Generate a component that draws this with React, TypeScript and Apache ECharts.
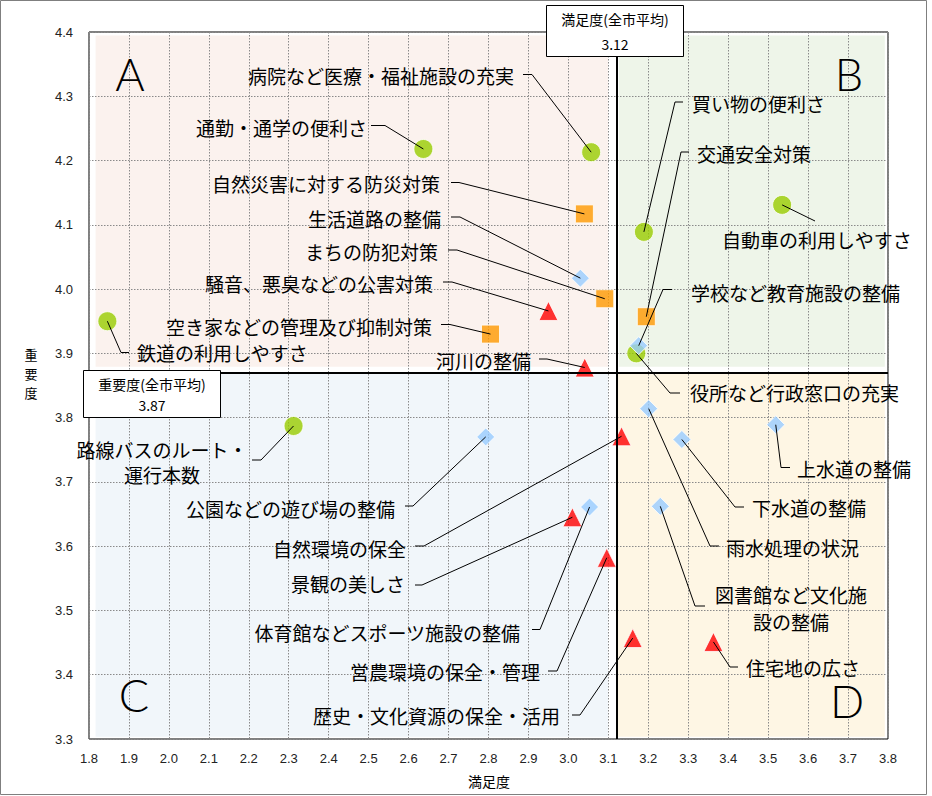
import React, { useEffect, useRef } from 'react';
import * as echarts from 'echarts';

// ---- data (satisfaction = x, importance = y) ----
const circleNames = ['病院など医療・福祉施設の充実', '通勤・通学の便利さ', '自動車の利用しやすさ', '買い物の便利さ', '鉄道の利用しやすさ', '路線バスのルート・運行本数', '役所など行政窓口の充実'];
const circleX = [3.057, 2.637, 3.535, 3.189, 1.846, 2.312, 3.170];
const circleY = [4.213, 4.218, 4.131, 4.089, 3.950, 3.787, 3.900];

const squareNames = ['自然災害に対する防災対策', 'まちの防犯対策', '空き家などの管理及び抑制対策', '交通安全対策'];
const squareX = [3.040, 3.091, 2.805, 3.195];
const squareY = [4.117, 3.985, 3.930, 3.957];

const diamondNames = ['生活道路の整備', '学校など教育施設の整備', '公園などの遊び場の整備', '体育館などスポーツ施設の整備', '雨水処理の状況', '下水道の整備', '上水道の整備', '図書館など文化施設の整備'];
const diamondX = [3.030, 3.176, 2.793, 3.053, 3.201, 3.284, 3.519, 3.230];
const diamondY = [4.017, 3.912, 3.770, 3.661, 3.814, 3.766, 3.789, 3.662];

const triangleNames = ['騒音、悪臭などの公害対策', '河川の整備', '自然環境の保全', '景観の美しさ', '営農環境の保全・管理', '歴史・文化資源の保全・活用', '住宅地の広さ'];
const triangleX = [2.950, 3.041, 3.133, 3.010, 3.096, 3.161, 3.363];
const triangleY = [3.966, 3.878, 3.771, 3.645, 3.582, 3.457, 3.451];

const meanX = 3.12;
const meanY = 3.87;
const xMin = 1.8, xMax = 3.8, yMin = 3.3, yMax = 4.4, step = 0.1;

// ---- annotation layout (pixels) ----
type Lay = { lines: string[]; x: number; y: number; align: 'left' | 'right' | 'center'; lead: number[][]; lh?: number };
const layout: Record<string, Lay> = {
  '病院など医療・福祉施設の充実': { lines: ['病院など医療・福祉施設の充実'], x: 514, y: 75, align: 'right', lead: [[523, 74.5], [532, 74.5]] },
  '通勤・通学の便利さ': { lines: ['通勤・通学の便利さ'], x: 367, y: 127, align: 'right', lead: [[371, 125.5], [385, 125.5]] },
  '自然災害に対する防災対策': { lines: ['自然災害に対する防災対策'], x: 440, y: 183, align: 'right', lead: [[451, 182.5], [459, 182.5]] },
  '生活道路の整備': { lines: ['生活道路の整備'], x: 441, y: 218, align: 'right', lead: [[451, 217], [460, 217]] },
  'まちの防犯対策': { lines: ['まちの防犯対策'], x: 438, y: 251, align: 'right', lead: [[448, 250], [457, 250]] },
  '騒音、悪臭などの公害対策': { lines: ['騒音、悪臭などの公害対策'], x: 433, y: 283, align: 'right', lead: [[443, 282], [452, 282]] },
  '空き家などの管理及び抑制対策': { lines: ['空き家などの管理及び抑制対策'], x: 432, y: 326, align: 'right', lead: [[441, 324.5], [450, 324.5]] },
  '鉄道の利用しやすさ': { lines: ['鉄道の利用しやすさ'], x: 137, y: 352, align: 'left', lead: [[129, 352.5], [121, 352.5]] },
  '河川の整備': { lines: ['河川の整備'], x: 531, y: 360, align: 'right', lead: [[539, 359], [547, 359]] },
  '買い物の便利さ': { lines: ['買い物の便利さ'], x: 692, y: 103, align: 'left', lead: [[683, 102], [675, 102]] },
  '交通安全対策': { lines: ['交通安全対策'], x: 697, y: 153, align: 'left', lead: [[689, 152], [681, 152]] },
  '自動車の利用しやすさ': { lines: ['自動車の利用しやすさ'], x: 722, y: 239, align: 'left', lead: [[815, 221]] },
  '学校など教育施設の整備': { lines: ['学校など教育施設の整備'], x: 691, y: 292, align: 'left', lead: [[672, 289.5], [663, 289.5]] },
  '役所など行政窓口の充実': { lines: ['役所など行政窓口の充実'], x: 690, y: 392, align: 'left', lead: [[680, 393], [670, 393]] },
  '路線バスのルート・運行本数': { lines: ['路線バスのルート・', '運行本数'], x: 162, y: 449, align: 'center', lead: [[252, 460], [261, 460]], lh: 25 },
  '公園などの遊び場の整備': { lines: ['公園などの遊び場の整備'], x: 395, y: 508, align: 'right', lead: [[405, 506], [413, 506]] },
  '自然環境の保全': { lines: ['自然環境の保全'], x: 406, y: 548, align: 'right', lead: [[415, 546], [424, 546]] },
  '景観の美しさ': { lines: ['景観の美しさ'], x: 405, y: 583, align: 'right', lead: [[415, 585], [422, 585]] },
  '体育館などスポーツ施設の整備': { lines: ['体育館などスポーツ施設の整備'], x: 520, y: 632, align: 'right', lead: [[532, 629.5], [540, 629.5]] },
  '営農環境の保全・管理': { lines: ['営農環境の保全・管理'], x: 540, y: 671, align: 'right', lead: [[548, 671], [557, 671]] },
  '歴史・文化資源の保全・活用': { lines: ['歴史・文化資源の保全・活用'], x: 560, y: 715, align: 'right', lead: [[572, 715], [580, 715]] },
  '上水道の整備': { lines: ['上水道の整備'], x: 797, y: 468, align: 'left', lead: [[790, 467.5], [781, 467.5]] },
  '下水道の整備': { lines: ['下水道の整備'], x: 752, y: 507, align: 'left', lead: [[744, 507], [735, 507]] },
  '雨水処理の状況': { lines: ['雨水処理の状況'], x: 726, y: 547, align: 'left', lead: [[719, 546], [710, 546]] },
  '図書館など文化施設の整備': { lines: ['図書館など文化施', '設の整備'], x: 791, y: 594, align: 'center', lead: [[705, 606], [695, 606]], lh: 27 },
  '住宅地の広さ': { lines: ['住宅地の広さ'], x: 746, y: 667, align: 'left', lead: [[738, 667], [730, 667]] },
};

const JP = '"Noto Sans CJK JP", "Noto Sans", sans-serif';
const LATIN = 'Lato, "Noto Sans", sans-serif';

function zip(xs: number[], ys: number[], names: string[]) {
  return xs.map((x, i) => ({ name: names[i], value: [x, ys[i]] }));
}

function txt(text: string, x: number, y: number, size: number, align: string, family = JP, extra: any = {}) {
  return {
    type: 'text', z: 120, silent: true,
    style: {
      text, x, y, fill: '#000', fontSize: size, fontFamily: family,
      align, textAlign: align, verticalAlign: 'middle', textVerticalAlign: 'middle', ...extra,
    },
  };
}

export default function App() {
  const ref = useRef<HTMLDivElement>(null);
  useEffect(() => {
    const chart = echarts.init(ref.current!, null, { renderer: 'svg' });
    const gridLine = { show: true, lineStyle: { color: '#8a8a8a', type: [1.5, 1.5], width: 1 } };
    const marker = { borderColor: '#ffffff', borderWidth: 1 };
    const option: any = {
      animation: false,
      backgroundColor: '#ffffff',
      grid: { left: 89, right: 44, top: 32, bottom: 57, show: true, borderColor: '#000', borderWidth: 1, backgroundColor: 'transparent' },
      xAxis: {
        type: 'value', min: xMin, max: xMax, interval: step, z: 2,
        axisLine: { show: false }, axisTick: { show: false },
        splitLine: gridLine,
        axisLabel: { margin: 13, fontSize: 13, color: '#222', fontFamily: '"Liberation Sans", Arial, sans-serif', formatter: (v: number) => v.toFixed(1) },
      },
      yAxis: {
        type: 'value', min: yMin, max: yMax, interval: step, z: 2,
        axisLine: { show: false }, axisTick: { show: false },
        splitLine: gridLine,
        axisLabel: { margin: 16, fontSize: 13, color: '#222', fontFamily: '"Liberation Sans", Arial, sans-serif', formatter: (v: number) => v.toFixed(1) },
      },
      series: [
        {
          type: 'scatter', z: 1, symbolSize: 0, data: [[meanX, meanY]], silent: true,
          markArea: {
            silent: true,
            label: { show: false },
            data: [
              [{ xAxis: 1.8165, yAxis: 4.3947, itemStyle: { color: '#FBF2EE' } }, { xAxis: 3.099, yAxis: 3.879 }],
              [{ xAxis: 3.1263, yAxis: 4.3947, itemStyle: { color: '#EEF5E9' } }, { xAxis: 3.792, yAxis: 3.879 }],
              [{ xAxis: 1.8165, yAxis: 3.869, itemStyle: { color: '#F1F6FA' } }, { xAxis: 3.099, yAxis: 3.3036 }],
              [{ xAxis: 3.1206, yAxis: 3.869, itemStyle: { color: '#FEF6E4' } }, { xAxis: 3.792, yAxis: 3.3036 }],
            ],
          },
        },
        {
          type: 'scatter', z: 3, symbolSize: 0, data: [[meanX, meanY]], silent: true,
          markLine: {
            silent: true, symbol: ['none', 'none'], label: { show: false },
            lineStyle: { color: '#000', width: 2, type: 'solid' },
            data: [{ xAxis: meanX }, { yAxis: meanY }],
          },
        },
        { type: 'scatter', z: 4, symbol: 'circle', symbolSize: 19, itemStyle: { color: '#99CC00', ...marker }, data: zip(circleX, circleY, circleNames) },
        { type: 'scatter', z: 4, symbol: 'rect', symbolSize: 18, itemStyle: { color: '#FF9900', ...marker }, data: zip(squareX, squareY, squareNames) },
        { type: 'scatter', z: 4, symbol: 'diamond', symbolSize: 18, itemStyle: { color: '#99CCFF', ...marker }, data: zip(diamondX, diamondY, diamondNames) },
        { type: 'scatter', z: 4, symbol: 'triangle', symbolSize: 19, itemStyle: { color: '#FF0000', ...marker }, data: zip(triangleX, triangleY, triangleNames) },
      ],
    };
    chart.setOption(option);

    const g: any[] = [];
    // outer chart frame
    g.push({ type: 'rect', z: 100, silent: true, shape: { x: 0.5, y: 0.5, width: 926, height: 794 }, style: { fill: 'none', stroke: '#7f7f7f', lineWidth: 1 } });
    // quadrant letters
    const letterFont = { fontWeight: 300, lineHeight: 32 };
    g.push(txt('A', 130, 74, 45, 'center', LATIN, letterFont));
    g.push(txt('B', 849, 74, 45, 'center', LATIN, letterFont));
    g.push(txt('C', 134, 695, 45, 'center', LATIN, letterFont));
    g.push(txt('D', 847, 701, 45, 'center', LATIN, letterFont));
    // mean boxes
    g.push({ type: 'rect', z: 110, silent: true, shape: { x: 546.5, y: 5.5, width: 137, height: 51 }, style: { fill: '#fff', stroke: '#000', lineWidth: 1 } });
    g.push(txt('満足度(全市平均)', 615, 19, 14, 'center'));
    g.push(txt(String(meanX.toFixed(2)), 615, 44, 14, 'center'));
    g.push({ type: 'rect', z: 110, silent: true, shape: { x: 83.5, y: 370.5, width: 137, height: 47 }, style: { fill: '#fff', stroke: '#000', lineWidth: 1 } });
    g.push(txt('重要度(全市平均)', 152, 384, 14, 'center'));
    g.push(txt(String(meanY.toFixed(2)), 152, 405, 14, 'center'));
    // axis titles
    g.push(txt('満足度', 489, 781, 14, 'center'));
    ['重', '要', '度'].forEach((c, i) => g.push(txt(c, 31, 354 + i * 19, 13, 'center')));

    // labels and leader lines
    const all = [
      ...zip(circleX, circleY, circleNames),
      ...zip(squareX, squareY, squareNames),
      ...zip(diamondX, diamondY, diamondNames),
      ...zip(triangleX, triangleY, triangleNames),
    ];
    all.forEach((d) => {
      const lay = layout[d.name];
      if (!lay) return;
      const p = chart.convertToPixel({ gridIndex: 0 }, d.value) as number[];
      const pts = [...lay.lead, p];
      g.push({ type: 'polyline', z: 115, silent: true, shape: { points: pts }, style: { stroke: '#000', lineWidth: 1, fill: 'none' } });
      lay.lines.forEach((line, i) => {
        g.push(txt(line, lay.x, lay.y + i * (lay.lh || 0), 19, lay.align, JP, { lineHeight: 20 }));
      });
    });
    chart.setOption({ graphic: { elements: g } });

    return () => chart.dispose();
  }, []);
  return <div ref={ref} style={{ position: 'fixed', left: 0, top: 0, width: 932, height: 796, background: '#fff' }} />;
}
